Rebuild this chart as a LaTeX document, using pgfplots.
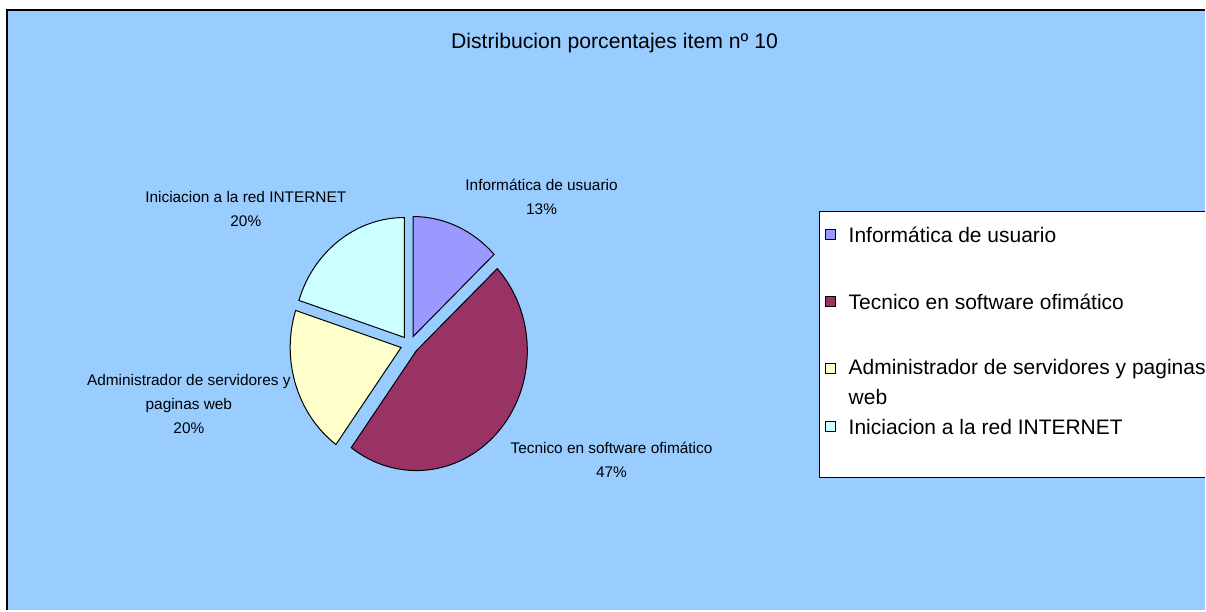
\documentclass[border=0pt]{standalone}
\usepackage{pgfplots}
\pgfplotsset{compat=1.18}
\usepackage{pgfplotstable}
\usepackage{fontspec}
\setmainfont{Liberation Sans}
\definecolor{bgblue}{HTML}{99CCFF}
\definecolor{slI}{HTML}{9999FF}
\definecolor{slT}{HTML}{993366}
\definecolor{slA}{HTML}{FFFFCC}
\definecolor{slN}{HTML}{CCFFFF}

% percentages per course
\pgfplotstableread{
idx value
0 13
1 47
2 20
3 20
}\piedata

\newcommand\lbl{\fontsize{7.7}{12}\selectfont}
\newcommand\leg{\fontsize{10.5}{14}\selectfont}

\begin{document}
\begin{tikzpicture}
\pgfplotstablegetelem{0}{value}\of\piedata\let\vA\pgfplotsretval
\pgfplotstablegetelem{1}{value}\of\piedata\let\vB\pgfplotsretval
\pgfplotstablegetelem{2}{value}\of\piedata\let\vC\pgfplotsretval
\pgfplotstablegetelem{3}{value}\of\piedata\let\vD\pgfplotsretval
% slice angles, clockwise from 12 o'clock
\pgfmathsetmacro\aA{90}
\pgfmathsetmacro\aB{\aA-3.6*\vA}
\pgfmathsetmacro\aC{\aB-3.6*\vB}
\pgfmathsetmacro\aD{\aC-3.6*\vC}
\pgfmathsetmacro\aE{\aD-3.6*\vD}
\pgfmathsetmacro\mA{(\aA+\aB)/2}
\pgfmathsetmacro\mB{(\aB+\aC)/2}
\pgfmathsetmacro\mC{(\aC+\aD)/2}
\pgfmathsetmacro\mD{(\aD+\aE)/2}
\begin{axis}[
  width=603pt, height=305.5pt, scale only axis,
  xmin=0, xmax=1206, ymin=0, ymax=611,
  hide axis, clip=false]
  \fill[white] (axis cs:0,0) rectangle (axis cs:1206,611);
  \fill[bgblue] (axis cs:7,0) rectangle (axis cs:1206,601);
  \draw[black, line width=1pt] (axis cs:7,0) -- (axis cs:7,601) -- (axis cs:1206,601);

  \node[font=\fontsize{10.6}{14}\selectfont] at (axis cs:615,568) {Distribucion porcentajes item nº 10};

  % exploded slices
  \filldraw[fill=slI, draw=black, line width=0.5pt, shift={(\mA:4.5pt)}]
    (axis cs:410,266) -- ++(\aA:55.5pt and 60pt)
    arc[start angle=\aA, end angle=\aB, x radius=55.5pt, y radius=60pt] -- cycle;
  \filldraw[fill=slT, draw=black, line width=0.5pt, shift={(\mB:4.5pt)}]
    (axis cs:410,266) -- ++(\aB:55.5pt and 60pt)
    arc[start angle=\aB, end angle=\aC, x radius=55.5pt, y radius=60pt] -- cycle;
  \filldraw[fill=slA, draw=black, line width=0.5pt, shift={(\mC:4.5pt)}]
    (axis cs:410,266) -- ++(\aC:55.5pt and 60pt)
    arc[start angle=\aC, end angle=\aD, x radius=55.5pt, y radius=60pt] -- cycle;
  \filldraw[fill=slN, draw=black, line width=0.5pt, shift={(\mD:4.5pt)}]
    (axis cs:410,266) -- ++(\aD:55.5pt and 60pt)
    arc[start angle=\aD, end angle=\aE, x radius=55.5pt, y radius=60pt] -- cycle;

  % slice labels
  \node[align=center, font=\lbl] at (axis cs:542,414) {Informática de usuario\\13\%};
  \node[align=center, font=\lbl] at (axis cs:612,150.5) {Tecnico en software ofimático\\47\%};
  \node[align=center, font=\lbl] at (axis cs:246,401.5) {Iniciacion a la red INTERNET\\20\%};
  \node[align=center, font=\lbl] at (axis cs:189,207) {Administrador de servidores y\\paginas web\\20\%};

  % legend
  \fill[white] (axis cs:820,133) rectangle (axis cs:1206,399);
  \draw[black, line width=0.6pt] (axis cs:1206,399) -- (axis cs:820,399) -- (axis cs:820,133) -- (axis cs:1206,133);
  \filldraw[fill=slI, draw=black, line width=0.6pt] (axis cs:826,371) rectangle (axis cs:836,381);
  \filldraw[fill=slT, draw=black, line width=0.6pt] (axis cs:826,304) rectangle (axis cs:836,314);
  \filldraw[fill=slA, draw=black, line width=0.6pt] (axis cs:826,237) rectangle (axis cs:836,247);
  \filldraw[fill=slN, draw=black, line width=0.6pt] (axis cs:826,179) rectangle (axis cs:836,189);
  \node[anchor=west, inner sep=0pt, font=\leg] at (axis cs:849,376) {Informática de usuario};
  \node[anchor=west, inner sep=0pt, font=\leg] at (axis cs:849,309) {Tecnico en software ofimático};
  \node[anchor=west, inner sep=0pt, font=\leg] at (axis cs:849,242) {Administrador de servidores y paginas};
  \node[anchor=west, inner sep=0pt, font=\leg] at (axis cs:849,214) {web};
  \node[anchor=west, inner sep=0pt, font=\leg] at (axis cs:849,184) {Iniciacion a la red INTERNET};
\end{axis}
\end{tikzpicture}
\end{document}
